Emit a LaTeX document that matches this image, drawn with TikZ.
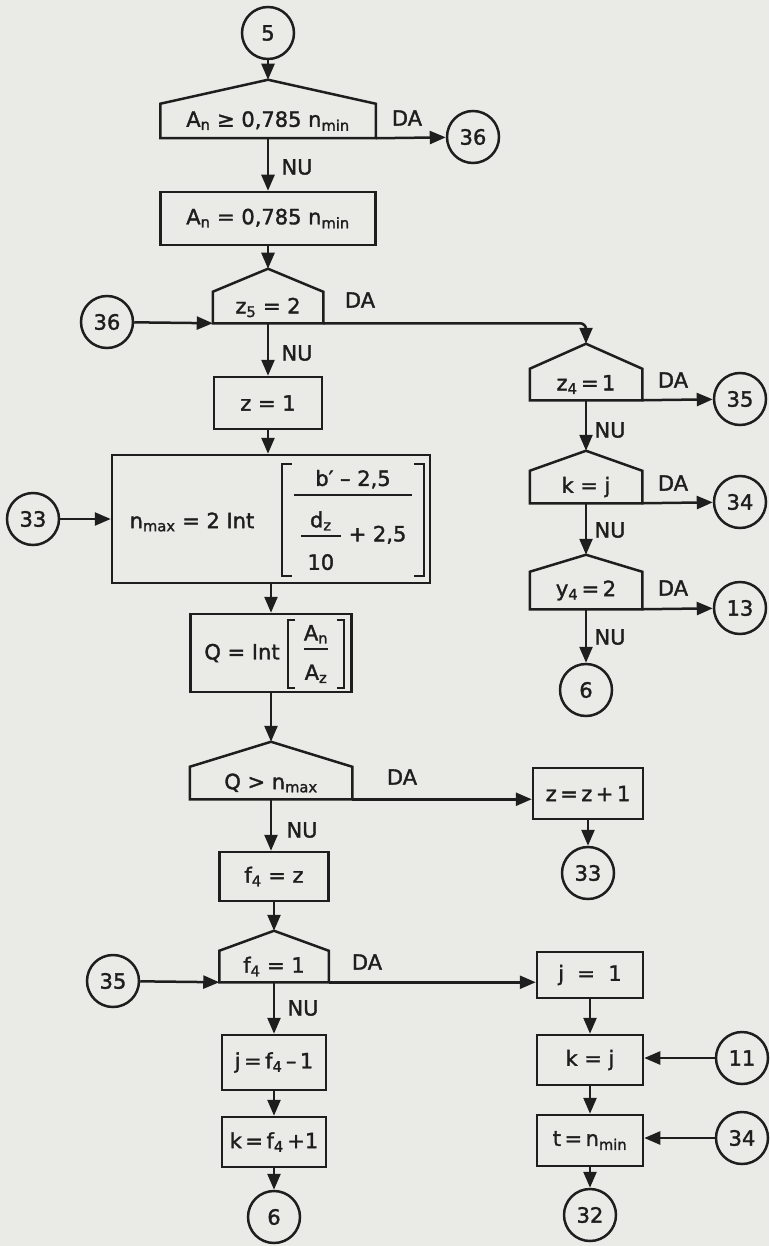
\documentclass[tikz,border=0pt]{standalone}
\usepackage{amsmath}
\usepackage{fontspec}
\setmainfont{DejaVu Sans}[FakeBold=1.6]
\usetikzlibrary{arrows.meta}
\definecolor{paper}{RGB}{234,234,231}
\definecolor{ink}{RGB}{30,30,30}
\newcommand{\lo}[1]{\textsubscript{#1}}
\newcommand{\bfrac}[2]{\genfrac{}{}{1.6pt}{0}{#1}{#2}}

\begin{document}
\begin{tikzpicture}[x=1pt, y=-1pt, line width=2.5pt, color=ink,
	every node/.style={font=\fontsize{21}{24}\selectfont},
	box/.style args={#1/#2}{draw, minimum width=#1, minimum height=#2, inner sep=0pt},
	decide/.style args={#1/#2}{minimum width=#1, minimum height=#2, inner sep=0pt},
	conn/.style={circle, draw, minimum size=52pt, inner sep=0pt},
	brack/.style={inner sep=0pt, minimum width=#1},
	flow/.style={-{Triangle[length=16pt, width=13pt]}}]
	\fill[paper] (0,0) rectangle (769,1246);
	\useasboundingbox (0,0) rectangle (769,1246);
	\node[conn] (c5) at (268,33) {5};
	\node[decide={213pt/32pt}] (d1) at (268,121) {A\lo{n} ≥ 0,785 n\lo{min}};
	\node[conn] (c36a) at (473,137) {36};
	\node[box={215pt/53pt}] (b1) at (268,218.5) {A\lo{n} = 0,785 n\lo{min}};
	\node[decide={108pt/29pt}] (d2) at (268,307.5) {z\lo{5} = 2};
	\node[conn] (c36b) at (107,322) {36};
	\node[box={108pt/52pt}] (b2) at (268,403) {z = 1};
	\node[box={318pt/128pt}] (b3) at (271,519) {};
	\node (nmax) at (192,522) {n\lo{max} = 2 Int};
	\node[brack=140pt, minimum height=110pt] (fq) at (353,520) {$\bfrac{\text{\makebox[118pt]{b′ – 2,5}}}{\bfrac{\text{\makebox[40pt]{d\lo{z}}}}{\text{\rule{0pt}{28pt}10}}\text{\rule{0pt}{41pt} + 2,5}}$};
	\node[conn] (c33a) at (33,519) {33};
	\node[box={161pt/78pt}] (b4) at (271,653) {};
	\node (qint) at (242,653) {Q = Int};
	\node[brack=53pt, minimum height=65pt] (fa) at (316,654) {$\bfrac{\text{A\lo{n}}}{\text{\rule{0pt}{25pt}A\lo{z}}}$};
	\node[decide={160pt/30pt}] (d6) at (271,783) {Q > n\lo{max}};
	\node[box={110pt/51pt}] (b5) at (588,793.5) {z\,=\,z\,+\,1};
	\node[conn] (c33b) at (588,873) {33};
	\node[box={109pt/49pt}] (b6) at (274,876.5) {f\lo{4} = z};
	\node[decide={107pt/29pt}] (d7) at (274,966.5) {f\lo{4} = 1};
	\node[conn] (c35b) at (113,981) {35};
	\node[box={104pt/55pt}] (b7) at (274,1062.5) {j\,=\,f\lo{4}\,–\,1};
	\node[box={104pt/50pt}] (b8) at (274,1142) {k\,=\,f\lo{4}\,+1};
	\node[conn] (c6b) at (274,1217) {6};
	\node[box={106pt/46pt}] (b9) at (590,975) {j\ \ =\ \ 1};
	\node[box={106pt/50pt}] (b10) at (590,1060) {k = j};
	\node[box={106pt/51pt}] (b11) at (590,1140.5) {t\,=\,n\lo{min}};
	\node[conn] (c11) at (742,1058) {11};
	\node[conn] (c34b) at (742,1138) {34};
	\node[conn] (c32) at (590,1215) {32};
	\node[decide={110pt/29pt}] (d3) at (586,384.5) {z\lo{4}\,=\,1};
	\node[conn] (c35a) at (740,399) {35};
	\node[decide={110pt/30pt}] (d4) at (586,487) {k = j};
	\node[conn] (c34a) at (740,502) {34};
	\node[decide={110pt/35pt}] (d5) at (586,590.5) {y\lo{4}\,=\,2};
	\node[conn] (c13) at (740,608) {13};
	\node[conn] (c6a) at (586,690) {6};
	\foreach \d/\r in {d1/24, d2/23, d3/25, d4/20, d5/17, d6/25, d7/20}{
		\coordinate (\d t) at ([yshift=\r pt]\d.north);
		\draw (\d.south west) -- (\d.north west) -- (\d t) -- (\d.north east) -- (\d.south east) -- cycle;
	}
	\foreach \f/\w in {fq/10, fa/7}{
		\draw[line width=1.6pt] ([xshift=\w pt]\f.north west) -- (\f.north west) -- (\f.south west) -- ([xshift=\w pt]\f.south west);
		\draw[line width=1.6pt] ([xshift=-\w pt]\f.north east) -- (\f.north east) -- (\f.south east) -- ([xshift=-\w pt]\f.south east);
	}
	\foreach \n/\x/\y in {1/297/167, 2/297/353, 3/610/430, 4/610/530, 5/610/637, 6/302/830, 7/303/1008}
		\node (nu\n) at (\x,\y) {NU};
	\foreach \n/\x/\y in {1/407/118, 2/360/300, 3/673/380, 4/673/483, 5/673/588, 6/402/777, 7/367/962}
		\node (da\n) at (\x,\y) {DA};
	\draw[flow] (c5) -- (d1t);
	\draw[flow] (d1.south east) -- (c36a);
	\draw[flow] (d1.south) -- (b1.north);
	\draw[flow] (b1.south) -- (d2t);
	\draw[flow] (c36b) -- (d2.south west);
	\draw[flow, rounded corners=6pt] (d2.south east) -| (d3t);
	\draw[flow] (d2.south) -- (b2.north);
	\draw[flow] (b2.south) -- (b2.south |- b3.north);
	\draw[flow] (c33a) -- (b3.west);
	\draw[flow] (b3.south) -- (b4.north);
	\draw[flow] (b4.south) -- (d6t);
	\draw[flow] (d6.south east) -- (d6.south east -| b5.west);
	\draw[flow] (d6.south) -- (d6.south |- b6.north);
	\draw[flow] (b5.south) -- (c33b);
	\draw[flow] (b6.south) -- (d7t);
	\draw[flow] (c35b) -- (d7.south west);
	\draw[flow] (d7.south east) -- (d7.south east -| b9.west);
	\draw[flow] (d7.south) -- (b7.north);
	\draw[flow] (b7.south) -- (b8.north);
	\draw[flow] (b8.south) -- (c6b);
	\draw[flow] (b9.south) -- (b10.north);
	\draw[flow] (b10.south) -- (b11.north);
	\draw[flow] (b11.south) -- (c32);
	\draw[flow] (c11) -- (c11 -| b10.east);
	\draw[flow] (c34b) -- (c34b -| b11.east);
	\draw[flow] (d3.south east) -- (c35a);
	\draw[flow] (d3.south) -- (d4t);
	\draw[flow] (d4.south east) -- (c34a);
	\draw[flow] (d4.south) -- (d5t);
	\draw[flow] (d5.south east) -- (c13);
	\draw[flow] (d5.south) -- (c6a);
\end{tikzpicture}
\end{document}
